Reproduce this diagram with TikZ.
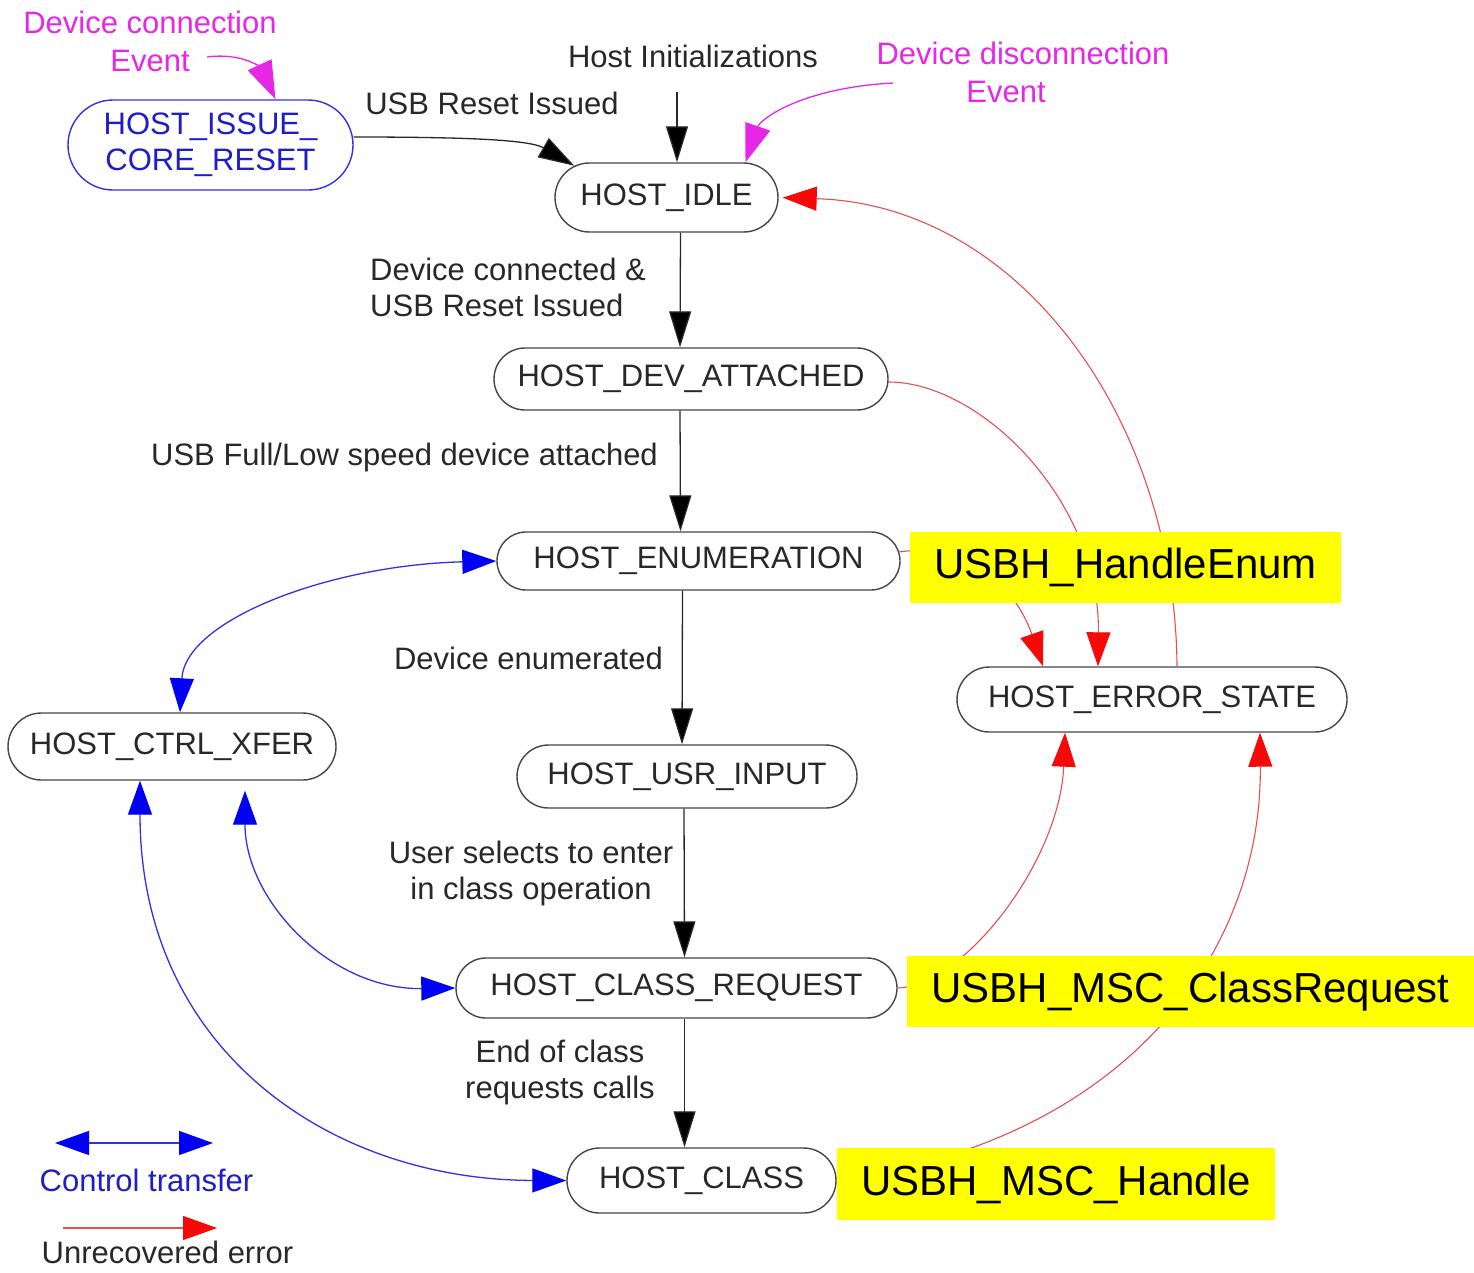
\documentclass[tikz,border=0pt]{standalone}
\usepackage{fontspec}
\setmainfont{Liberation Sans}
\usetikzlibrary{arrows.meta,shapes.misc}

\definecolor{ink}{RGB}{40,40,40}
\definecolor{rim}{RGB}{70,70,70}
\definecolor{ctrlblue}{RGB}{50,50,225}
\definecolor{tipblue}{RGB}{0,0,245}
\definecolor{textblue}{RGB}{30,30,200}
\definecolor{errred}{RGB}{228,80,80}
\definecolor{tipred}{RGB}{245,10,10}
\definecolor{evmag}{RGB}{230,40,230}
\definecolor{notefill}{RGB}{255,255,0}

\tikzset{
  state/.style={rounded rectangle, draw=rim, line width=1.4pt, inner sep=0pt,
    text=ink, font=\fontsize{31}{37}\selectfont, fill=white},
  lbl/.style={text=ink, font=\fontsize{31}{36}\selectfont, inner sep=0pt, align=center},
  evlbl/.style={text=evmag, font=\fontsize{31}{38}\selectfont, inner sep=0pt, align=center},
  notebox/.style={fill=notefill, inner sep=0pt, text=black, font=\fontsize{42}{48}\selectfont},
  flow/.style={draw=ink, line width=1.3pt, -{Triangle[length=36pt,width=22pt,fill=black]}},
  evflow/.style={draw=evmag, line width=1.3pt, -{Triangle[length=38pt,width=26pt]}},
  ctrl/.style={draw=ctrlblue, line width=1.3pt,
    {Triangle[length=34pt,width=24pt,color=tipblue]}-{Triangle[length=34pt,width=24pt,color=tipblue]}},
  errflow/.style={draw=errred, line width=1.1pt, -{Triangle[length=34pt,width=24pt,color=tipred]}}
}

\begin{document}
\begin{tikzpicture}[x=1pt,y=-1pt]
\useasboundingbox (0,0) rectangle (1474,1272);
\fill[white] (0,0) rectangle (1474,1272);

% states
\node[state, draw=ctrlblue, text=textblue, align=center, minimum width=285pt, minimum height=90pt]
  (issue) at (210.5,145) {\raisebox{-4pt}{\begin{tabular}{@{}c@{}}HOST\_ISSUE\_\\[-1pt]CORE\_RESET\end{tabular}}};
\node[state, minimum width=223pt, minimum height=69pt] (idle) at (666.5,197.5) {HOST\_IDLE};
\node[state, minimum width=394pt, minimum height=62pt] (att) at (691,379) {HOST\_DEV\_ATTACHED};
\node[state, minimum width=403pt, minimum height=58pt] (enum) at (698.5,561) {HOST\_ENUMERATION};
\node[state, minimum width=390pt, minimum height=65pt] (err) at (1152,699.5) {HOST\_ERROR\_STATE};
\node[state, minimum width=328pt, minimum height=67pt] (xfer) at (172,746.5) {HOST\_CTRL\_XFER};
\node[state, minimum width=340pt, minimum height=63pt] (usr) at (687,776.5) {HOST\_USR\_INPUT};
\node[state, minimum width=441pt, minimum height=60pt] (creq) at (676.5,988) {HOST\_CLASS\_REQUEST};
\node[state, minimum width=269pt, minimum height=65pt] (cls) at (701.5,1180.5) {HOST\_CLASS};

% events
\node[evlbl] (connev) at (150,41) {Device connection\\Event};
\node[evlbl] (discev) at (1023,72) {Device disconnection\\Event\hspace*{34pt}};
\coordinate (connsrc) at (207,57);
\coordinate (discsrc) at (893,83);
\coordinate (initsrc) at (677,92);

% transition labels
\node[lbl] (linit) at (693,56) {Host Initializations};
\node[lbl] (lreset) at (492,103) {USB Reset Issued};
\node[lbl, align=left, anchor=west] (lconn) at (370,287) {Device connected \&\\USB Reset Issued};
\node[lbl] (lspeed) at (404.5,457) {USB Full/Low speed device attached};
\node[lbl] (lenum) at (528.5,658) {Device enumerated};
\node[lbl] (lsel) at (531,873) {User selects to enter\\in class operation};
\node[lbl] (lend) at (560,1072) {End of class\\requests calls};

% main state flow
\draw[flow] (initsrc) -- (initsrc |- idle.north);
\draw[flow] ([yshift=8pt]issue.east) .. controls (470,137) and (530,140) .. (idle.161);
\draw[flow] ([xshift=14pt]idle.south) -- ([xshift=-11pt]att.north);
\draw[flow] ([xshift=-11pt]att.south) -- ([xshift=-18pt]enum.north);
\draw[flow] ([xshift=-16pt]enum.south) -- ([xshift=-5pt]usr.north);
\draw[flow] ([xshift=-3pt]usr.south) -- ([xshift=8pt]creq.north);
\draw[flow] ([xshift=8pt]creq.south) -- ([xshift=-17pt]cls.north);

% external events
\draw[evflow] (connsrc) .. controls (245,52) and (262,70) .. ([xshift=65pt]issue.north);
\draw[evflow] (discsrc) .. controls (800,88) and (760,120) .. ([xshift=79pt]idle.north);

% control transfers
\draw[ctrl] ([xshift=8pt]xfer.north) .. controls (185,620) and (330,565) .. (enum.west);
\draw[ctrl, shorten <=10pt] ([xshift=73pt]xfer.south) .. controls (245,900) and (330,990) .. (creq.west);
\draw[ctrl] ([xshift=-32pt]xfer.south) .. controls (140,1050) and (330,1180) .. (cls.west);

% unrecovered errors
\draw[errflow, shorten >=4pt] ([xshift=25pt]err.north) .. controls (1175,420) and (1020,205) .. (idle.east);
\draw[errflow] ([yshift=-3pt]att.east) .. controls (980,382) and (1100,500) .. ([xshift=-54pt]err.north);
\draw[errflow] ([yshift=9pt,xshift=-2pt]enum.east) .. controls (980,540) and (1020,600) .. ([xshift=-109pt]err.north);
\draw[errflow] (creq.east) .. controls (965,985) and (1060,860) .. ([xshift=-87pt]err.south);
\draw[errflow] (cls.east) .. controls (1130,1140) and (1262,950) .. ([xshift=108pt]err.south);

% handler functions
\node[notebox, minimum width=431pt, minimum height=71pt] (henum) at (1125.5,567.5) {USBH\_HandleEnum};
\node[notebox, minimum width=567pt, minimum height=71pt] (hreq) at (1190.5,991.5) {USBH\_MSC\_ClassRequest};
\node[notebox, minimum width=438pt, minimum height=72pt] (hcls) at (1056,1184) {USBH\_MSC\_Handle};

% legend
\coordinate (lgc1) at (55,1143);
\coordinate (lgc2) at (213,1143);
\coordinate (lge1) at (63,1228);
\coordinate (lge2) at (217,1228);
\draw[ctrl] (lgc1) -- (lgc2);
\draw[errflow] (lge1) -- (lge2);
\node[lbl, text=textblue] (lgctext) at (146.5,1180) {Control transfer};
\node[lbl] (lgetext) at (167.5,1252) {Unrecovered error};
\end{tikzpicture}
\end{document}
